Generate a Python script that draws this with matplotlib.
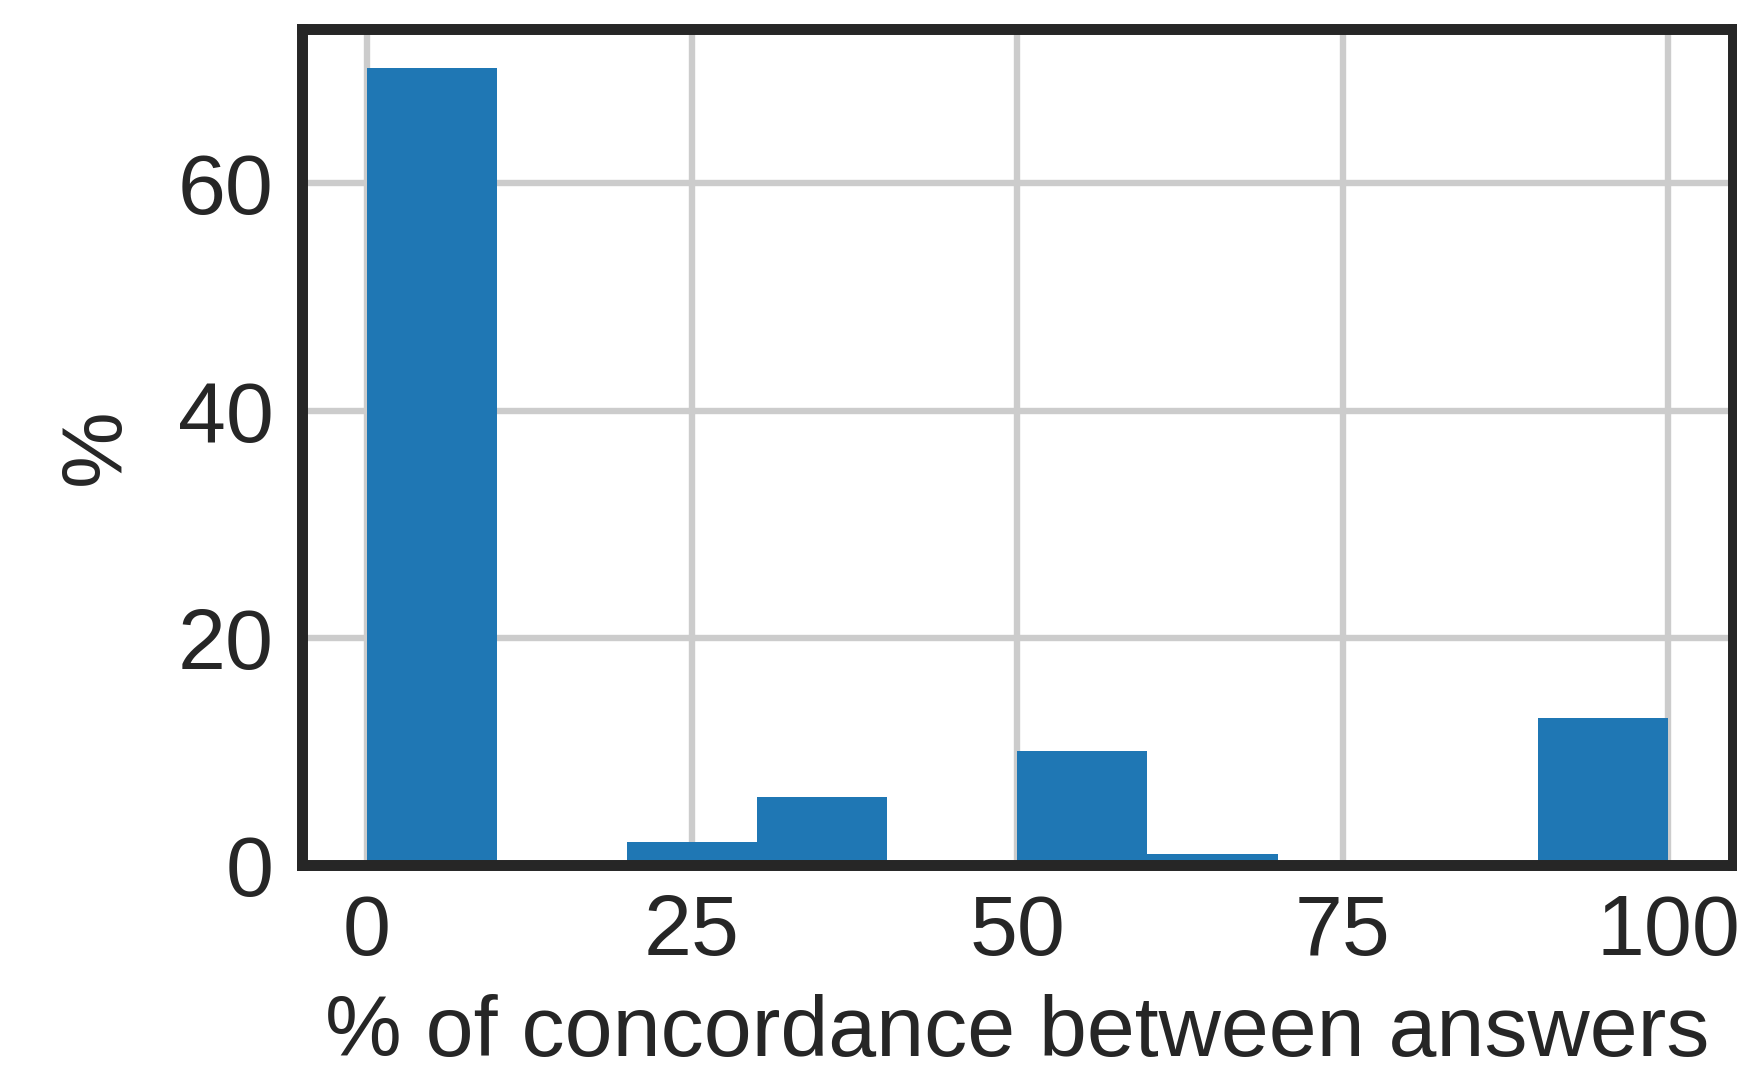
import numpy as np
import matplotlib.pyplot as plt

# histogram of concordance between answers (bins of 10 %)
bin_edges = [0, 10, 20, 30, 40, 50, 60, 70, 80, 90, 100]
bin_pct = [70.1, 0.0, 2.05, 6.0, 0.0, 10.05, 1.0, 0.0, 0.0, 13.0]

plt.rcParams['font.family'] = ['Liberation Sans', 'DejaVu Sans']

fig = plt.figure(figsize=(17.37, 10.76), dpi=100)
ax = fig.add_axes([0.1736, 0.1958, 0.9977 - 0.1736, 0.9735 - 0.1958])

ax.bar(bin_edges[:-1], bin_pct, width=np.diff(bin_edges), align='edge',
       color='#1f77b4', linewidth=0, zorder=2)

ax.set_axisbelow(True)
ax.grid(True, color='#cccccc', linewidth=4.6)
for s in ax.spines.values():
    s.set_color('#262626')
    s.set_linewidth(7.9)

ax.set_xlim(-5, 105)
ax.set_ylim(0, 73.6)
ax.set_xticks([0, 25, 50, 75, 100])
ax.set_yticks([0, 20, 40, 60])
ax.tick_params(length=0, labelsize=62, colors='#262626', pad=20)

ax.set_xlabel('% of concordance between answers', fontsize=62, color='#262626', labelpad=15)
ax.set_ylabel('%', fontsize=62, color='#262626', labelpad=29)

fig.savefig('out.png', dpi=100)
